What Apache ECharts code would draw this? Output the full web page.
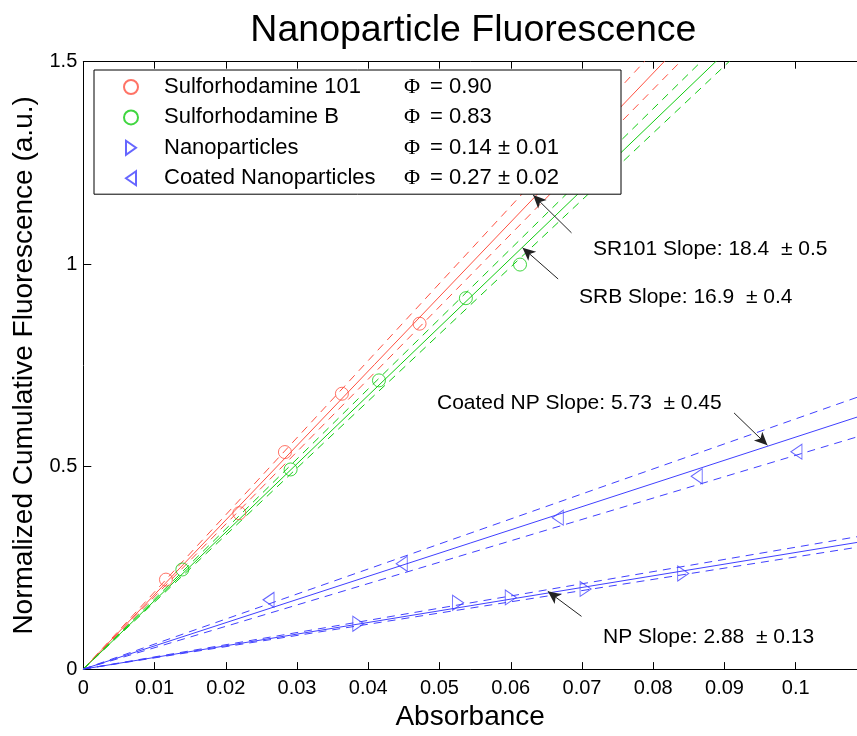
<!DOCTYPE html>
<html>
<head>
<meta charset="utf-8">
<script src="https://cdn.jsdelivr.net/npm/echarts@6/dist/echarts.min.js"></script>
<style>html,body{margin:0;padding:0;background:#fff}#c{width:857px;height:736px}</style>
</head>
<body>
<div id="c"></div>
<script>
// ---- data ----
const seriesNames = ['Sulforhodamine 101', 'Sulforhodamine B', 'Nanoparticles', 'Coated Nanoparticles'];
const phiText = ['= 0.90', '= 0.83', '= 0.14 \u00b1 0.01', '= 0.27 \u00b1 0.02'];

const sr101X = [0.0116, 0.0219, 0.0283, 0.0363, 0.0472];
const sr101Y = [0.221, 0.385, 0.536, 0.680, 0.853];
const srbX = [0.0139, 0.0291, 0.0415, 0.0537, 0.0613];
const srbY = [0.246, 0.493, 0.713, 0.916, 0.999];
const npX = [0.0386, 0.0526, 0.0600, 0.0705, 0.0842];
const npY = [0.112, 0.164, 0.177, 0.198, 0.236];
const coatedX = [0.0260, 0.0447, 0.0666, 0.0861, 0.1001];
const coatedY = [0.171, 0.260, 0.374, 0.476, 0.537];

// fitted slopes: [fit, upper, lower]
const sr101Slopes = [18.4, 19.05, 17.9];
const srbSlopes = [16.9, 17.3, 16.55];
const npSlopes = [2.88, 3.01, 2.77];
const coatedSlopes = [5.73, 6.18, 5.28];

const xTickLabels = ['0', '0.01', '0.02', '0.03', '0.04', '0.05', '0.06', '0.07', '0.08', '0.09', '0.1'];
const yTickLabels = ['0', '0.5', '1', '1.5'];

const annotations = [
  {text: 'SR101 Slope: 18.4  \u00b1 0.5', from: [0.06853, 1.0773], to: [0.06314, 1.1707]},
  {text: 'SRB Slope: 16.9  \u00b1 0.4', from: [0.06665, 0.9634], to: [0.06165, 1.0407]},
  {text: 'Coated NP Slope: 5.73  \u00b1 0.45', from: [0.09134, 0.6327], to: [0.09603, 0.5529]},
  {text: 'NP Slope: 2.88  \u00b1 0.13', from: [0.06993, 0.1302], to: [0.0652, 0.192]}
];

// ---- styles ----
const RED = '#ff5040', GREEN = '#10cc10', BLUE = '#4040ff';
const xMax = 0.1086;
const FONT = 'Liberation Sans';

function zip(xs, ys) { return xs.map((x, i) => [x, ys[i]]); }
function fitLine(slope) { return [[0, 0], [xMax, slope * xMax]]; }

const series = [];
[[sr101Slopes, RED], [srbSlopes, GREEN], [npSlopes, BLUE], [coatedSlopes, BLUE]].forEach(([sl, col]) => {
  sl.forEach((s, i) => {
    series.push({
      type: 'line', data: fitLine(s), symbol: 'none', silent: true, clip: true,
      lineStyle: {color: col, width: 1, type: i === 0 ? 'solid' : [8, 6]}, z: 2
    });
  });
});

const circle = 'circle';
const triRight = 'path://M0,0 L10,7 L0,14 Z';
const triLeft = 'path://M10,0 L0,7 L10,14 Z';
const scatterDefs = [
  [seriesNames[0], zip(sr101X, sr101Y), RED, circle, 13],
  [seriesNames[1], zip(srbX, srbY), GREEN, circle, 13],
  [seriesNames[2], zip(npX, npY), BLUE, triRight, [11, 15]],
  [seriesNames[3], zip(coatedX, coatedY), BLUE, triLeft, [11, 15]]
];
scatterDefs.forEach(([name, data, col, sym, size]) => {
  series.push({
    type: 'scatter', name, data, symbol: sym, symbolSize: size, symbolKeepAspect: false,
    itemStyle: {color: 'rgba(0,0,0,0)', borderColor: col, borderWidth: 1}, z: 3, silent: true
  });
});

series.push({
  type: 'line', data: [], silent: true,
  markLine: {
    silent: true, animation: false,
    symbol: ['none', 'arrow'], symbolSize: [9, 13],
    label: {show: false},
    lineStyle: {color: '#222', width: 1, type: 'solid'},
    data: annotations.map(a => [{coord: a.from}, {coord: a.to}])
  }
});

const chart = echarts.init(document.getElementById('c'), null, {renderer: 'canvas'});
const axisCommon = {
  type: 'value', min: 0, max: xMax, interval: 0.01,
  axisLine: {show: true, lineStyle: {color: '#000', width: 1}},
  axisTick: {show: true, inside: true, length: 7, lineStyle: {color: '#000'}},
  splitLine: {show: false}
};
chart.setOption({
  animation: false,
  backgroundColor: '#fff',
  grid: {left: 83.3, right: 0, top: 61.7, bottom: 59.3, containLabel: false},
  xAxis: [
    Object.assign({}, axisCommon, {
      position: 'bottom',
      name: 'Absorbance', nameLocation: 'middle', nameGap: 29,
      nameTextStyle: {fontFamily: FONT, fontSize: 28, color: '#000'},
      axisLabel: {fontFamily: FONT, fontSize: 20, color: '#000', margin: 9, showMaxLabel: false,
        formatter: (v, i) => xTickLabels[i] !== undefined ? xTickLabels[i] : ''}
    }),
    Object.assign({}, axisCommon, {position: 'top', axisLabel: {show: false}})
  ],
  yAxis: [{
    type: 'value', min: 0, max: 1.5, interval: 0.5,
    name: 'Normalized Cumulative Fluorescence (a.u.)', nameLocation: 'middle', nameGap: 44,
    nameTextStyle: {fontFamily: FONT, fontSize: 28, color: '#000'},
    axisLine: {show: true, lineStyle: {color: '#000', width: 1}},
    axisTick: {show: true, inside: true, length: 8, lineStyle: {color: '#000'}},
    splitLine: {show: false},
    axisLabel: {fontFamily: FONT, fontSize: 20, color: '#000', margin: 6,
      formatter: (v, i) => yTickLabels[i]}
  }],
  legend: {
    orient: 'vertical', left: 94, top: 70, data: seriesNames, selectedMode: false,
    itemWidth: 14, itemHeight: 14, itemGap: 8.4,
    padding: [6, 26, 5, 29],
    borderColor: '#000', borderWidth: 1, backgroundColor: '#fff',
    textStyle: {
      fontFamily: FONT, fontSize: 22, lineHeight: 22, color: '#000',
      rich: {
        p: {width: 21, fontSize: 22, fontFamily: FONT},
        a: {width: 240, fontSize: 22, fontFamily: FONT, color: '#000'},
        b: {width: 26, fontSize: 22, fontFamily: 'Liberation Serif', color: '#000'},
        c: {width: 165, fontSize: 22, fontFamily: FONT, color: '#000'}
      }
    },
    formatter: name => '{p| }{a|' + name + '}{b|\u03a6}{c|' + phiText[seriesNames.indexOf(name)] + '}'
  },
  graphic: [
    {type: 'text', x: 473.4, y: 31, z: 10,
      style: {text: 'Nanoparticle Fluorescence', fontFamily: FONT, fontSize: 37.5, fill: '#000',
        textAlign: 'center', textVerticalAlign: 'middle'}},
    {type: 'text', x: 593, y: 249, z: 10,
      style: {text: annotations[0].text, fontFamily: FONT, fontSize: 21, fill: '#000', textVerticalAlign: 'middle'}},
    {type: 'text', x: 579, y: 297, z: 10,
      style: {text: annotations[1].text, fontFamily: FONT, fontSize: 21, fill: '#000', textVerticalAlign: 'middle'}},
    {type: 'text', x: 437, y: 403, z: 10,
      style: {text: annotations[2].text, fontFamily: FONT, fontSize: 21, fill: '#000', textVerticalAlign: 'middle'}},
    {type: 'text', x: 603, y: 637, z: 10,
      style: {text: annotations[3].text, fontFamily: FONT, fontSize: 21, fill: '#000', textVerticalAlign: 'middle'}}
  ],
  series
});
</script>
</body>
</html>
